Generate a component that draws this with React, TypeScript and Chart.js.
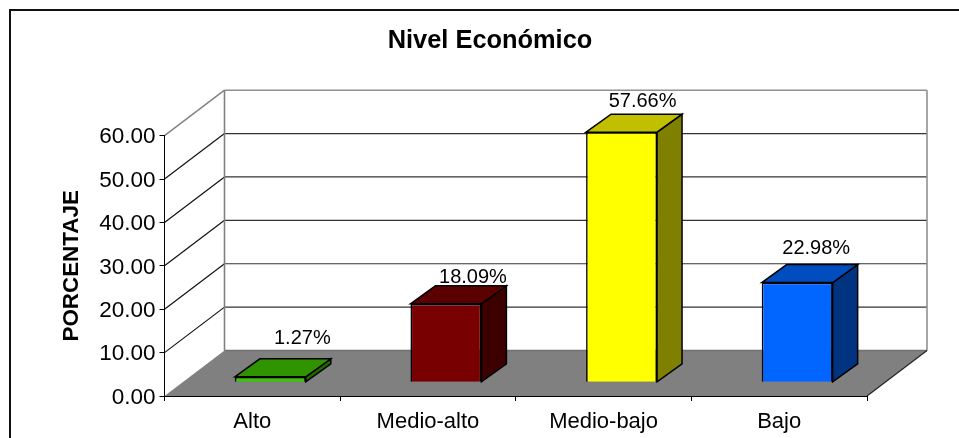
import React, { useEffect, useRef } from "react";
import { Chart, registerables } from "chart.js";

Chart.register(...registerables);

const categories = ["Alto", "Medio-alto", "Medio-bajo", "Bajo"];
const values = [1.27, 18.09, 57.66, 22.98];
const yTicks = [0, 10, 20, 30, 40, 50, 60];
const frontColors = ["#36C800", "#780000", "#FFFF00", "#0066FF"];
const topColors = ["#2F9400", "#5A0000", "#C0C000", "#004DBF"];
const sideColors = ["#1F6A00", "#3C0000", "#808000", "#003380"];
const labelShiftX = [32, 27, 21, 19];
const labelShiftY = [38, 26, 31, 34];

const FLOOR_DX = 60;
const FLOOR_DY = 45.5;
const BAR_OFF_DX = 18;
const BAR_OFF_DY = 13.7;
const BAR_DX = 25;
const BAR_DY = 18;
const FONT = "'Liberation Sans', Arial, sans-serif";

function poly(ctx: CanvasRenderingContext2D, pts: number[][]) {
  ctx.beginPath();
  pts.forEach((p, i) => (i ? ctx.lineTo(p[0], p[1]) : ctx.moveTo(p[0], p[1])));
  ctx.closePath();
}

function line(ctx: CanvasRenderingContext2D, x1: number, y1: number, x2: number, y2: number, color: string, w: number) {
  ctx.strokeStyle = color;
  ctx.lineWidth = w;
  ctx.beginPath();
  ctx.moveTo(x1, y1);
  ctx.lineTo(x2, y2);
  ctx.stroke();
}

const depthPlugin = {
  id: "depth3d",
  afterLayout(chart: any) {
    // The title is centred over the plot including its depth, not over the axes' box.
    chart.titleBlock.left = 0;
    chart.titleBlock.right = 980;
  },
  beforeDraw(chart: any) {
    const { ctx, chartArea: a, scales } = chart;
    const y = scales.y;
    ctx.save();
    // outer frame
    ctx.strokeStyle = "#111111";
    ctx.lineWidth = 2;
    ctx.beginPath();
    ctx.moveTo(10, chart.height);
    ctx.lineTo(10, 10);
    ctx.lineTo(chart.width, 10);
    ctx.stroke();

    const y0 = y.getPixelForValue(0);
    const yTop = y.getPixelForValue(60);
    // floor
    ctx.fillStyle = "#808080";
    poly(ctx, [
      [a.left, y0],
      [a.right, y0],
      [a.right + FLOOR_DX, y0 - FLOOR_DY],
      [a.left + FLOOR_DX, y0 - FLOOR_DY],
    ]);
    ctx.fill();
    // grid on side wall and back wall
    yTicks.forEach((v) => {
      const py = y.getPixelForValue(v);
      const isEdge = v === 60;
      if (v > 0) {
        line(ctx, a.left, py, a.left + FLOOR_DX, py - FLOOR_DY, isEdge ? "#808080" : "#111111", isEdge ? 1.4 : 1.2);
        line(ctx, a.left + FLOOR_DX, py - FLOOR_DY, a.right + FLOOR_DX, py - FLOOR_DY, isEdge ? "#909090" : "#333333", isEdge ? 1.6 : 1.2);
      }
    });
    // wall edges
    line(ctx, a.left + FLOOR_DX, yTop - FLOOR_DY, a.left + FLOOR_DX, y0 - FLOOR_DY, "#808080", 1.6);
    line(ctx, a.right + FLOOR_DX, yTop - FLOOR_DY, a.right + FLOOR_DX, y0 - FLOOR_DY, "#909090", 1.6);
    line(ctx, a.left + FLOOR_DX, y0 - FLOOR_DY, a.right + FLOOR_DX, y0 - FLOOR_DY, "#707070", 1.5);
    line(ctx, a.right, y0, a.right + FLOOR_DX, y0 - FLOOR_DY, "#222222", 1.2);
    ctx.restore();
  },
  afterDatasetsUpdate(chart: any) {
    chart.getDatasetMeta(0).data.forEach((el: any) => {
      el.x += BAR_OFF_DX;
      el.y -= BAR_OFF_DY;
      el.base -= BAR_OFF_DY;
    });
  },
  beforeDatasetsDraw(chart: any) {
    const { ctx } = chart;
    ctx.save();
    ctx.strokeStyle = "#000000";
    ctx.lineWidth = 1.5;
    ctx.lineJoin = "miter";
    chart.getDatasetMeta(0).data.forEach((el: any, i: number) => {
      const l = el.x - el.width / 2;
      const r = el.x + el.width / 2;
      ctx.fillStyle = sideColors[i];
      poly(ctx, [
        [r, el.y],
        [r + BAR_DX, el.y - BAR_DY],
        [r + BAR_DX, el.base - BAR_DY],
        [r, el.base],
      ]);
      ctx.fill();
      ctx.stroke();
      ctx.fillStyle = topColors[i];
      poly(ctx, [
        [l, el.y],
        [l + BAR_DX, el.y - BAR_DY],
        [r + BAR_DX, el.y - BAR_DY],
        [r, el.y],
      ]);
      ctx.fill();
      ctx.stroke();
    });
    ctx.restore();
  },
  afterDatasetsDraw(chart: any) {
    const { ctx } = chart;
    ctx.save();
    ctx.fillStyle = "#000000";
    ctx.font = `20px ${FONT}`;
    ctx.textAlign = "center";
    ctx.textBaseline = "middle";
    chart.getDatasetMeta(0).data.forEach((el: any, i: number) => {
      ctx.fillText(`${values[i].toFixed(2)}%`, el.x + labelShiftX[i], el.y - labelShiftY[i]);
    });
    ctx.restore();
  },
};

export default function App() {
  const ref = useRef<HTMLCanvasElement>(null);
  useEffect(() => {
    document.body.style.margin = "0";
    document.body.style.background = "#ffffff";
    const chart = new Chart(ref.current as HTMLCanvasElement, {
      type: "bar",
      data: {
        labels: categories,
        datasets: [
          {
            data: values,
            backgroundColor: frontColors,
            borderColor: "#000000",
            borderWidth: 1.6,
            categoryPercentage: 1,
            barPercentage: 0.404,
            clip: false,
          } as any,
        ],
      },
      plugins: [depthPlugin],
      options: {
        responsive: false,
        animation: false,
        layout: { padding: { left: 0, right: 92, top: 0, bottom: 0 } },
        plugins: {
          legend: { display: false },
          tooltip: { enabled: false },
          title: {
            display: true,
            text: "Nivel Económico",
            color: "#000000",
            font: { family: FONT, size: 25.4, weight: "bold", lineHeight: 1.2 },
            padding: { top: 25.3, bottom: 79.9 },
          },
        },
        scales: {
          x: {
            type: "category",
            offset: true,
            afterFit: (s: any) => {
              s.height = 42;
            },
            grid: {
              offset: true,
              drawOnChartArea: false,
              drawTicks: true,
              tickLength: 5,
              color: "#000000",
              lineWidth: 1,
            },
            border: { display: true, color: "#000000", width: 1 },
            ticks: {
              color: "#000000",
              padding: 8,
              font: { family: FONT, size: 22 },
              maxRotation: 0,
            },
          },
          y: {
            type: "linear",
            min: 0,
            max: 60,
            afterFit: (s: any) => {
              s.width = 164.5;
            },
            grid: {
              drawOnChartArea: false,
              drawTicks: true,
              tickLength: 5,
              color: "#000000",
              lineWidth: 1,
            },
            border: { display: true, color: "#000000", width: 1 },
            ticks: {
              stepSize: 10,
              color: "#000000",
              padding: 4,
              labelOffset: 1.5,
              font: { family: FONT, size: 22.5 },
              callback: (v: any) => Number(v).toFixed(2),
            },
            title: {
              display: true,
              text: "PORCENTAJE",
              color: "#000000",
              font: { family: FONT, size: 22.4, weight: "bold" },
              padding: { top: 58, bottom: 0 },
            },
          },
        },
      } as any,
    });
    return () => chart.destroy();
  }, []);
  return <canvas ref={ref} width={959} height={438} style={{ display: "block" }} />;
}
